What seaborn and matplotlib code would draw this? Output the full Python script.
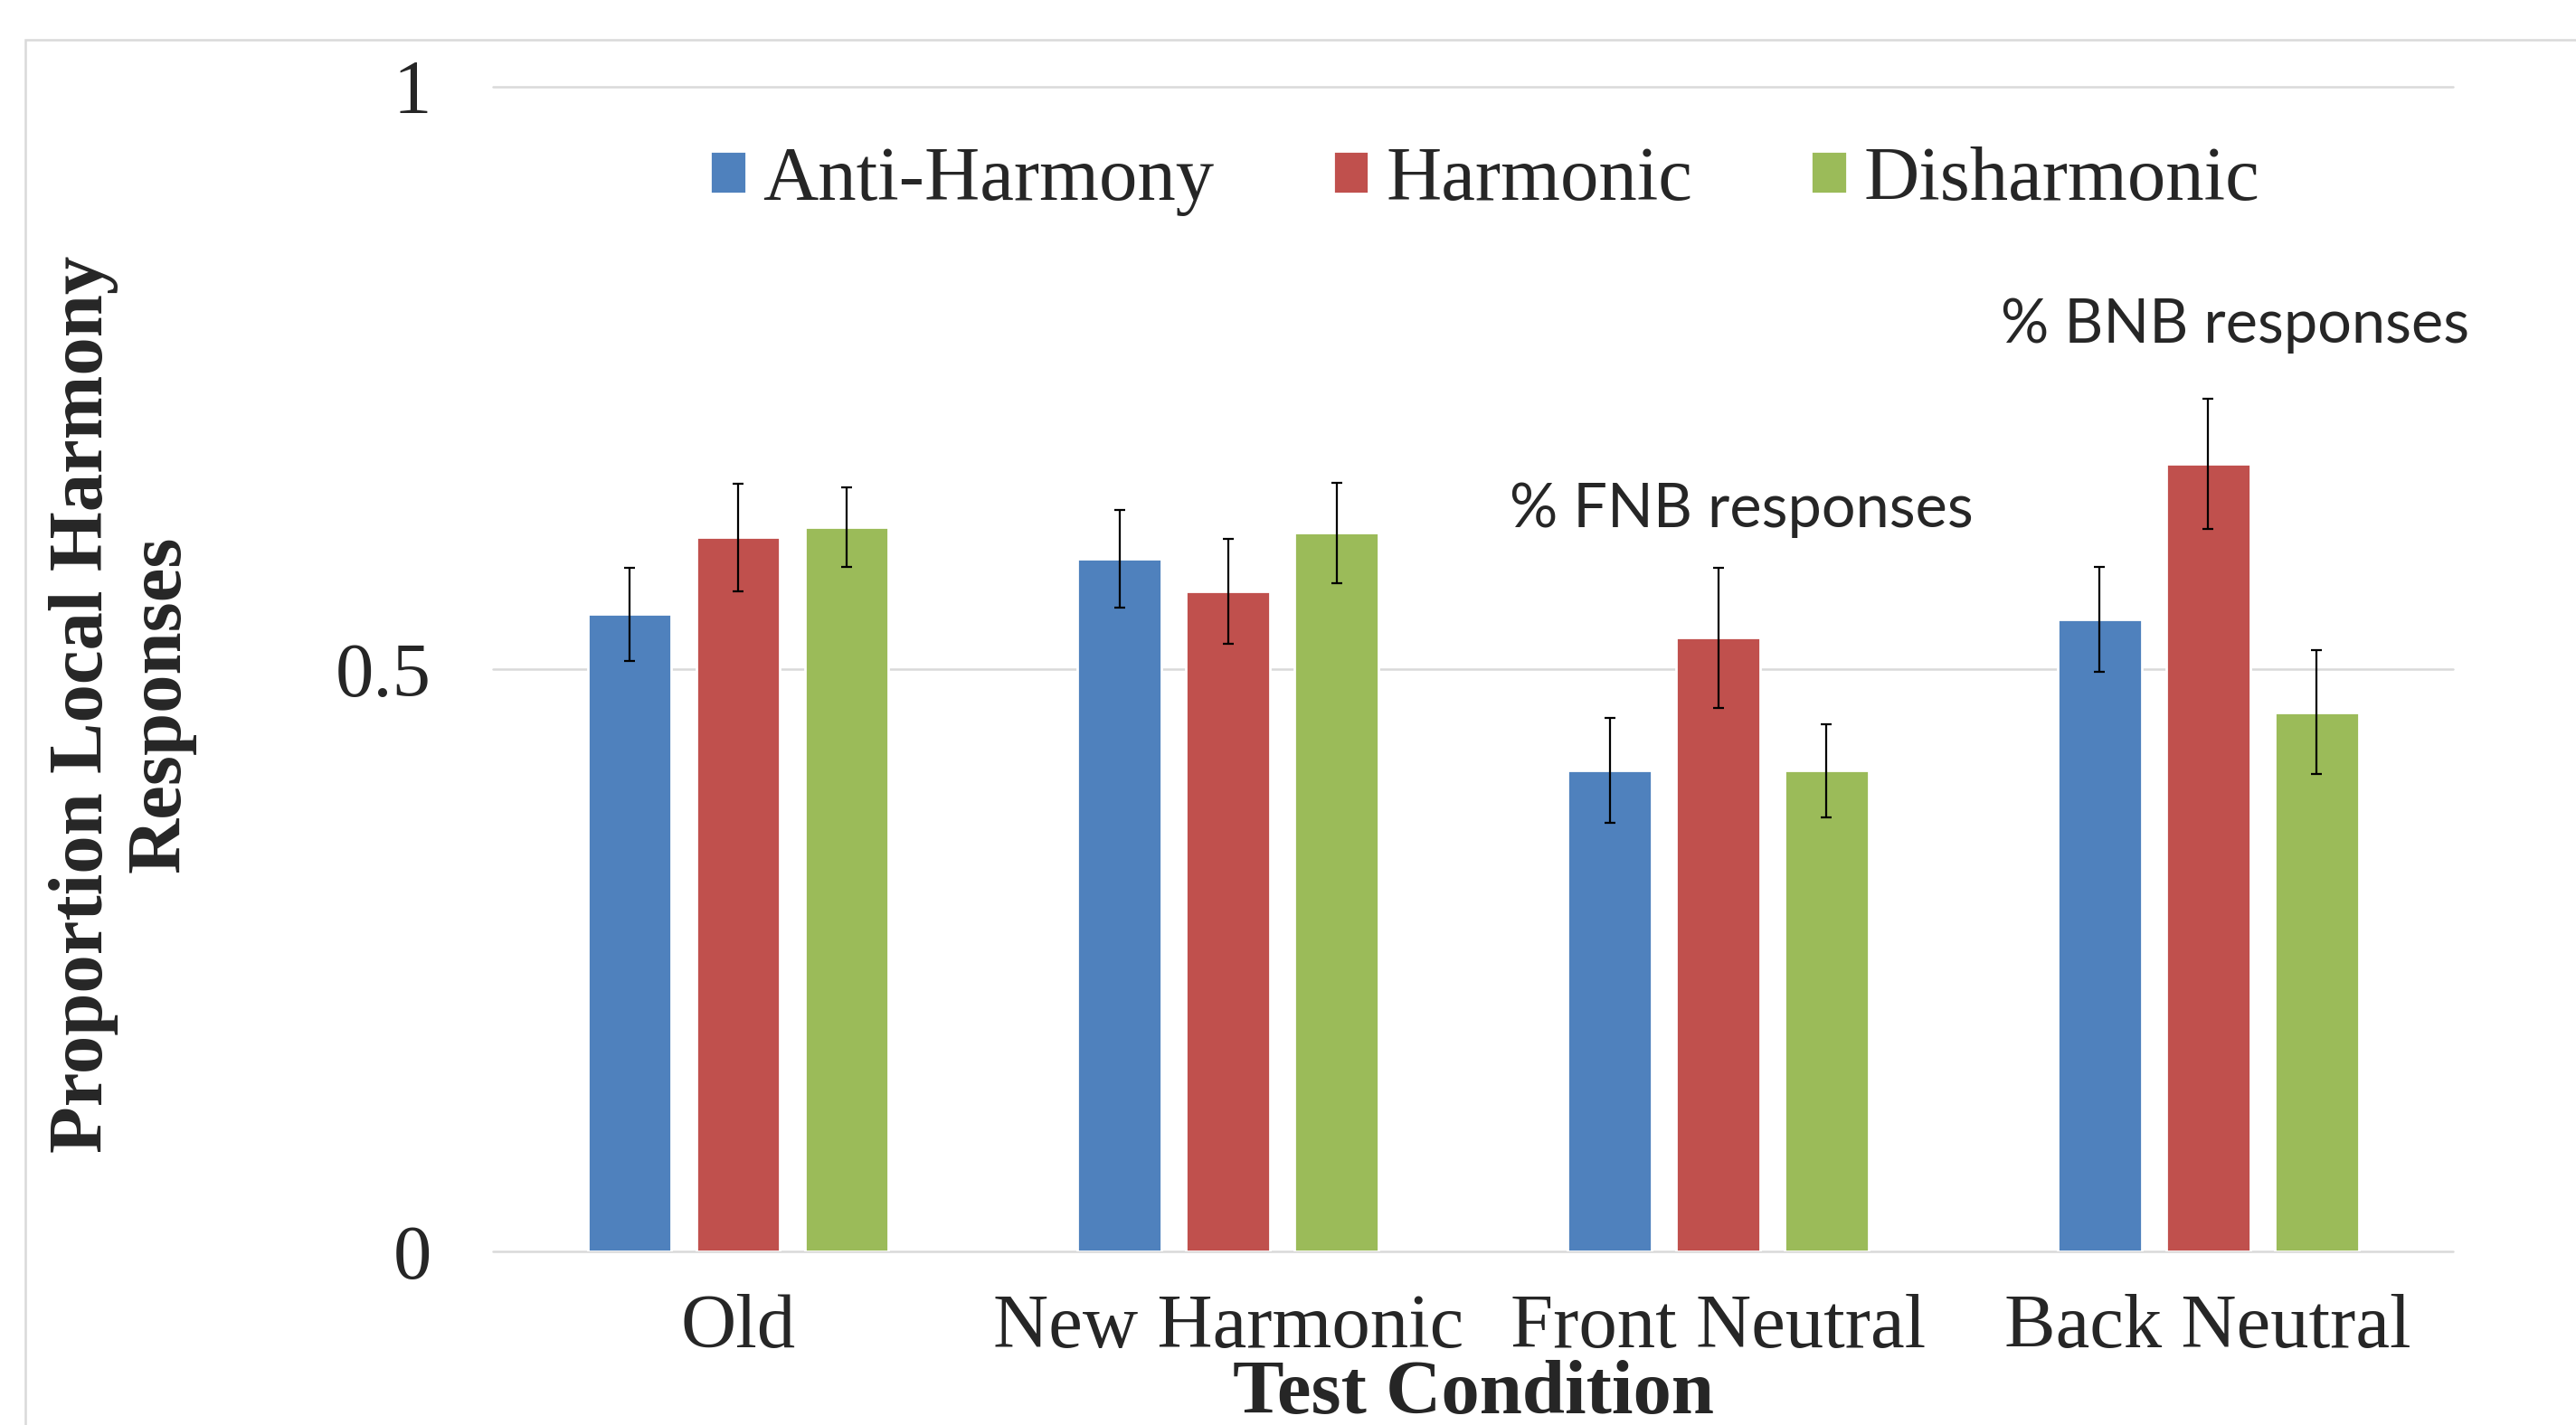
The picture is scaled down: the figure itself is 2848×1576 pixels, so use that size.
import numpy as np
import pandas as pd
import seaborn as sns
import matplotlib.pyplot as plt
from matplotlib.patches import Rectangle

# values
conditions = ['Old', 'New Harmonic', 'Front Neutral', 'Back Neutral']
groups = ['Anti-Harmony', 'Harmonic', 'Disharmonic']
anti_harmony = [0.547, 0.595, 0.413, 0.543]
harmonic = [0.613, 0.567, 0.527, 0.676]
disharmonic = [0.622, 0.617, 0.413, 0.463]
err_anti = [0.040, 0.042, 0.045, 0.045]
err_harm = [0.046, 0.045, 0.060, 0.056]
err_dis = [0.034, 0.043, 0.040, 0.053]
colors = {'Anti-Harmony': '#4F81BD', 'Harmonic': '#C0504D', 'Disharmonic': '#9BBB59'}

df = pd.DataFrame({
    'Condition': conditions * 3,
    'Group': np.repeat(groups, len(conditions)),
    'Proportion': anti_harmony + harmonic + disharmonic,
})
errors = [err_anti, err_harm, err_dis]

sns.set_style('white')
plt.rcParams['font.family'] = ['Liberation Serif', 'DejaVu Serif']

fig = plt.figure(figsize=(14.24, 7.88), dpi=200)
ax = fig.add_axes([0.1914, 0.1218, 0.7609, 0.8173])

sns.barplot(data=df, x='Condition', y='Proportion', hue='Group',
            order=conditions, hue_order=groups, palette=colors,
            saturation=1, errorbar=None, width=0.664, gap=0.227, ax=ax)

# error bars placed on the bars seaborn drew
for cont, err in zip(ax.containers, errors):
    xs = [b.get_x() + b.get_width() / 2 for b in cont]
    ys = [b.get_height() for b in cont]
    ax.errorbar(xs, ys, yerr=err, fmt='none', ecolor='black',
                elinewidth=0.8, capsize=2.2, capthick=0.8, zorder=5)

ax.set_ylim(0, 1)
ax.set_xlim(-0.5, 3.5)
ax.set_yticks([0, 0.5, 1])
ax.set_yticklabels(['0', '0.5', '1'])
ax.tick_params(axis='y', length=0, pad=24.5, labelsize=30.5)
ax.tick_params(axis='x', length=0, pad=17, labelsize=30.5)
ax.yaxis.grid(True, color='#d9d9d9', linewidth=0.9)
for gl in ax.get_ygridlines():
    gl.set_clip_on(False)
ax.set_axisbelow(True)
sns.despine(ax=ax, left=True, bottom=True)

ax.set_xlabel('Test Condition', fontsize=30.5, weight='bold')
ax.xaxis.set_label_coords(0.5, -0.093)
ax.set_ylabel('Proportion Local Harmony\nResponses', fontsize=30.5, weight='bold',
              linespacing=1.15)
ax.yaxis.set_label_coords(-0.1514, 0.47)

handles, labels = ax.get_legend_handles_labels()
ax.legend(handles, labels, loc='center', bbox_to_anchor=(0.506, 0.919), ncol=3,
          frameon=False, fontsize=30.5, handlelength=0.47, handleheight=0.47,
          handletextpad=0.22, columnspacing=1.55)

ax.text(1.575, 0.622, '% FNB responses', family='Lato', fontsize=24,
        ha='left', va='baseline')
ax.text(2.577, 0.780, '% BNB responses', family='Lato', fontsize=24,
        ha='left', va='baseline')

# light chart-area frame like the original
fig.add_artist(Rectangle((28 / 2848, -0.2), 1.5, 1.2 - 44 / 1576, fill=False,
                         edgecolor='#d9d9d9', linewidth=0.9,
                         transform=fig.transFigure))

fig.savefig('out.png', dpi=200)
